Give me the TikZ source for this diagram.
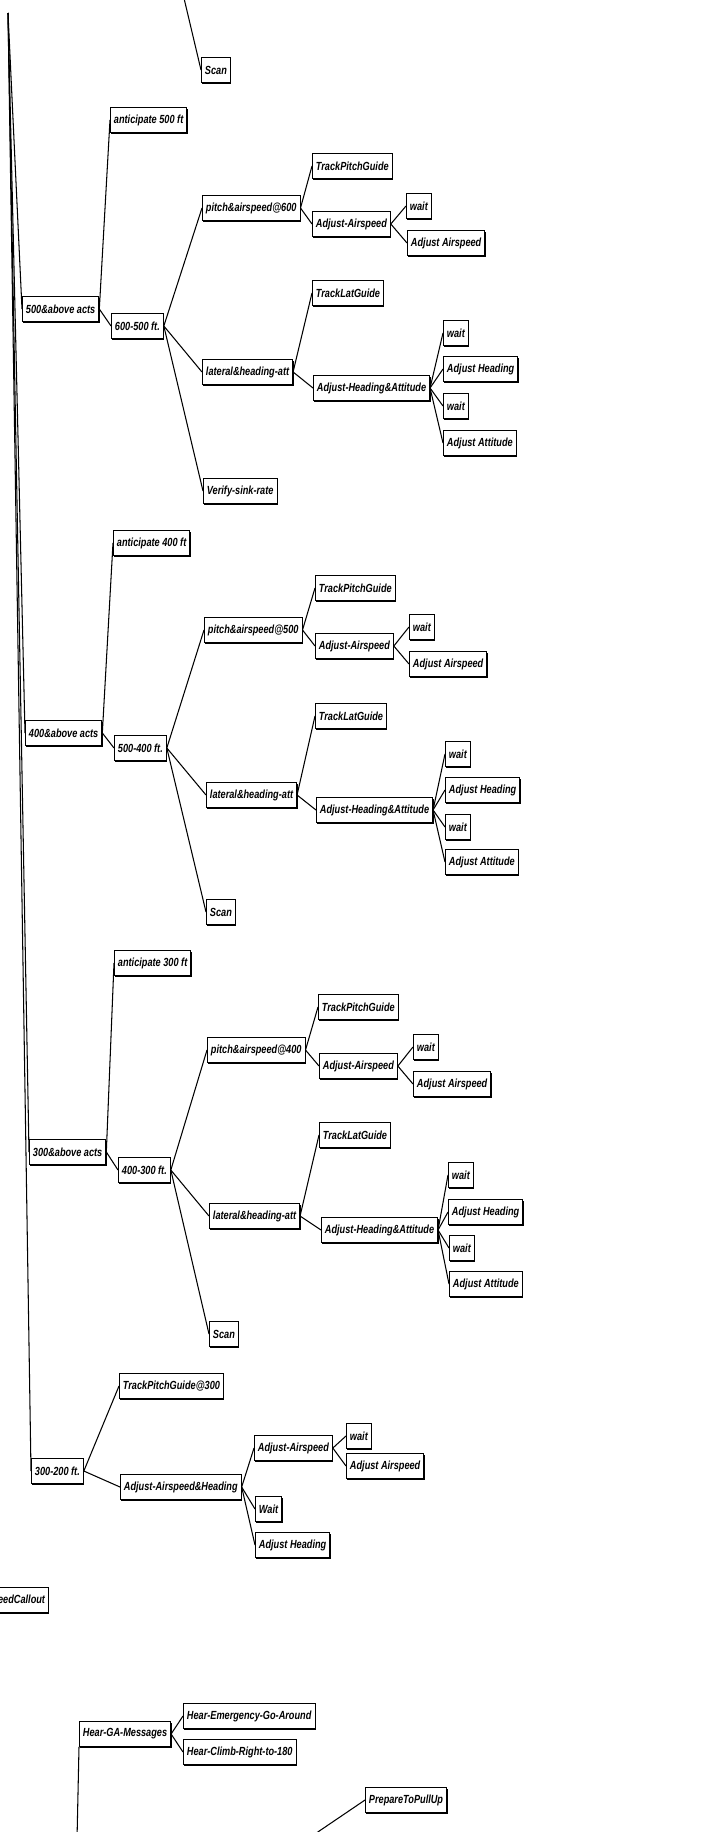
\documentclass[tikz,border=0pt]{standalone}
\usepackage{fontspec}
\newfontfamily\boxfont[FakeStretch=0.78]{Liberation Sans}
\usetikzlibrary{shadows}
\tikzset{
  taskbox/.style={draw=black, line width=0.5pt, fill=white, anchor=west, inner xsep=2pt, inner ysep=1pt, minimum height=0.5cm, font=\boxfont\bfseries\itshape\fontsize{6.7}{7.5}\selectfont, drop shadow={shadow xshift=0.5pt, shadow yshift=-0.7pt, fill=black, opacity=1}},
  link/.style={draw=black, line width=0.6pt},
}

\begin{document}
\begin{tikzpicture}[x=0.02cm, y=-0.02cm]
\useasboundingbox (0,0) rectangle (710,1832);
\clip (0,0) rectangle (710,1832);
\coordinate (root) at (8,13);
\coordinate (scanroot) at (183,-6);
\coordinate (pullroot) at (306,1840);
\coordinate (garoot) at (77,1840);
\node[taskbox] (scanA) at (201,70) {Scan};
\node[taskbox] (ant5) at (110,120) {anticipate 500 ft};
\node[taskbox] (acts5) at (22,309) {500\&above acts};
\node[taskbox] (r65) at (111,326) {600-500 ft.};
\node[taskbox] (pa6) at (202,208) {pitch\&airspeed@600};
\node[taskbox] (tpg1) at (312,166) {TrackPitchGuide};
\node[taskbox] (aa1) at (312,224) {Adjust-Airspeed};
\node[taskbox] (w1) at (406,206) {wait};
\node[taskbox] (aas1) at (407,243) {Adjust Airspeed};
\node[taskbox] (lh1) at (202,372) {lateral\&heading-att};
\node[taskbox] (tlg1) at (312,293) {TrackLatGuide};
\node[taskbox] (aha1) at (313,388) {Adjust-Heading\&Attitude};
\node[taskbox] (w2) at (443,333) {wait};
\node[taskbox] (ah1) at (443,369) {Adjust Heading};
\node[taskbox] (w3) at (443,406) {wait};
\node[taskbox] (aat1) at (443,443) {Adjust Attitude};
\node[taskbox] (vsr) at (203,491) {Verify-sink-rate};
\node[taskbox] (ant4) at (113,543) {anticipate 400 ft};
\node[taskbox] (acts4) at (25,733) {400\&above acts};
\node[taskbox] (r54) at (114,748) {500-400 ft.};
\node[taskbox] (pa5) at (204,630) {pitch\&airspeed@500};
\node[taskbox] (tpg2) at (315,588) {TrackPitchGuide};
\node[taskbox] (aa2) at (315,646) {Adjust-Airspeed};
\node[taskbox] (w4) at (409,627) {wait};
\node[taskbox] (aas2) at (409,664) {Adjust Airspeed};
\node[taskbox] (tlg2) at (315,716) {TrackLatGuide};
\node[taskbox] (lh2) at (206,795) {lateral\&heading-att};
\node[taskbox] (aha2) at (316,810) {Adjust-Heading\&Attitude};
\node[taskbox] (w5) at (445,754) {wait};
\node[taskbox] (ah2) at (445,790) {Adjust Heading};
\node[taskbox] (w6) at (445,827) {wait};
\node[taskbox] (aat2) at (445,862) {Adjust Attitude};
\node[taskbox] (scanB) at (206,912) {Scan};
\node[taskbox] (ant3) at (114,963) {anticipate 300 ft};
\node[taskbox] (acts3) at (29,1152) {300\&above acts};
\node[taskbox] (r43) at (118,1170) {400-300 ft.};
\node[taskbox] (pa4) at (207,1050) {pitch\&airspeed@400};
\node[taskbox] (tpg3) at (318,1007) {TrackPitchGuide};
\node[taskbox] (aa3) at (319,1066) {Adjust-Airspeed};
\node[taskbox] (w7) at (413,1047) {wait};
\node[taskbox] (aas3) at (413,1084) {Adjust Airspeed};
\node[taskbox] (tlg3) at (319,1135) {TrackLatGuide};
\node[taskbox] (lh3) at (209,1216) {lateral\&heading-att};
\node[taskbox] (aha3) at (321,1230) {Adjust-Heading\&Attitude};
\node[taskbox] (w8) at (448,1175) {wait};
\node[taskbox] (ah3) at (448,1212) {Adjust Heading};
\node[taskbox] (w9) at (449,1248) {wait};
\node[taskbox] (aat3) at (449,1284) {Adjust Attitude};
\node[taskbox] (scanC) at (209,1334) {Scan};
\node[taskbox] (r32) at (31,1471) {300-200 ft.};
\node[taskbox] (tpg300) at (119,1386) {TrackPitchGuide@300};
\node[taskbox] (aah) at (120,1487) {Adjust-Airspeed\&Heading};
\node[taskbox] (aa4) at (254,1448) {Adjust-Airspeed};
\node[taskbox] (w10) at (346,1436) {wait};
\node[taskbox] (aas4) at (346,1466) {Adjust Airspeed};
\node[taskbox] (wt) at (255,1509) {Wait};
\node[taskbox] (ah4) at (255,1545) {Adjust Heading};
\node[taskbox, anchor=east] (callout) at (49,1600) {SpeedCallout};
\node[taskbox] (hga) at (79,1734) {Hear-GA-Messages};
\node[taskbox] (hega) at (183,1716) {Hear-Emergency-Go-Around};
\node[taskbox] (hcr) at (183,1752) {Hear-Climb-Right-to-180};
\node[taskbox] (ptpu) at (365,1800) {PrepareToPullUp};
\draw[link] (root) -- (acts5.west);
\draw[link] (root) -- (acts4.west);
\draw[link] (root) -- (acts3.west);
\draw[link] (root) -- (r32.west);
\draw[link] (scanroot) -- (scanA.west);
\draw[link] (acts5.east) -- (ant5.west);
\draw[link] (acts5.east) -- (r65.west);
\draw[link] (r65.east) -- (pa6.west);
\draw[link] (r65.east) -- (lh1.west);
\draw[link] (r65.east) -- (vsr.west);
\draw[link] (pa6.east) -- (tpg1.west);
\draw[link] (pa6.east) -- (aa1.west);
\draw[link] (aa1.east) -- (w1.west);
\draw[link] (aa1.east) -- (aas1.west);
\draw[link] (lh1.east) -- (tlg1.west);
\draw[link] (lh1.east) -- (aha1.west);
\draw[link] (aha1.east) -- (w2.west);
\draw[link] (aha1.east) -- (ah1.west);
\draw[link] (aha1.east) -- (w3.west);
\draw[link] (aha1.east) -- (aat1.west);
\draw[link] (acts4.east) -- (ant4.west);
\draw[link] (acts4.east) -- (r54.west);
\draw[link] (r54.east) -- (pa5.west);
\draw[link] (r54.east) -- (lh2.west);
\draw[link] (r54.east) -- (scanB.west);
\draw[link] (pa5.east) -- (tpg2.west);
\draw[link] (pa5.east) -- (aa2.west);
\draw[link] (aa2.east) -- (w4.west);
\draw[link] (aa2.east) -- (aas2.west);
\draw[link] (lh2.east) -- (tlg2.west);
\draw[link] (lh2.east) -- (aha2.west);
\draw[link] (aha2.east) -- (w5.west);
\draw[link] (aha2.east) -- (ah2.west);
\draw[link] (aha2.east) -- (w6.west);
\draw[link] (aha2.east) -- (aat2.west);
\draw[link] (acts3.east) -- (ant3.west);
\draw[link] (acts3.east) -- (r43.west);
\draw[link] (r43.east) -- (pa4.west);
\draw[link] (r43.east) -- (lh3.west);
\draw[link] (r43.east) -- (scanC.west);
\draw[link] (pa4.east) -- (tpg3.west);
\draw[link] (pa4.east) -- (aa3.west);
\draw[link] (aa3.east) -- (w7.west);
\draw[link] (aa3.east) -- (aas3.west);
\draw[link] (lh3.east) -- (tlg3.west);
\draw[link] (lh3.east) -- (aha3.west);
\draw[link] (aha3.east) -- (w8.west);
\draw[link] (aha3.east) -- (ah3.west);
\draw[link] (aha3.east) -- (w9.west);
\draw[link] (aha3.east) -- (aat3.west);
\draw[link] (r32.east) -- (tpg300.west);
\draw[link] (r32.east) -- (aah.west);
\draw[link] (aah.east) -- (aa4.west);
\draw[link] (aah.east) -- (wt.west);
\draw[link] (aah.east) -- (ah4.west);
\draw[link] (aa4.east) -- (w10.west);
\draw[link] (aa4.east) -- (aas4.west);
\draw[link] (hga.east) -- (hega.west);
\draw[link] (hga.east) -- (hcr.west);
\draw[link] (garoot) -- (hga.south west);
\draw[link] (pullroot) -- (ptpu.west);
\end{tikzpicture}
\end{document}
